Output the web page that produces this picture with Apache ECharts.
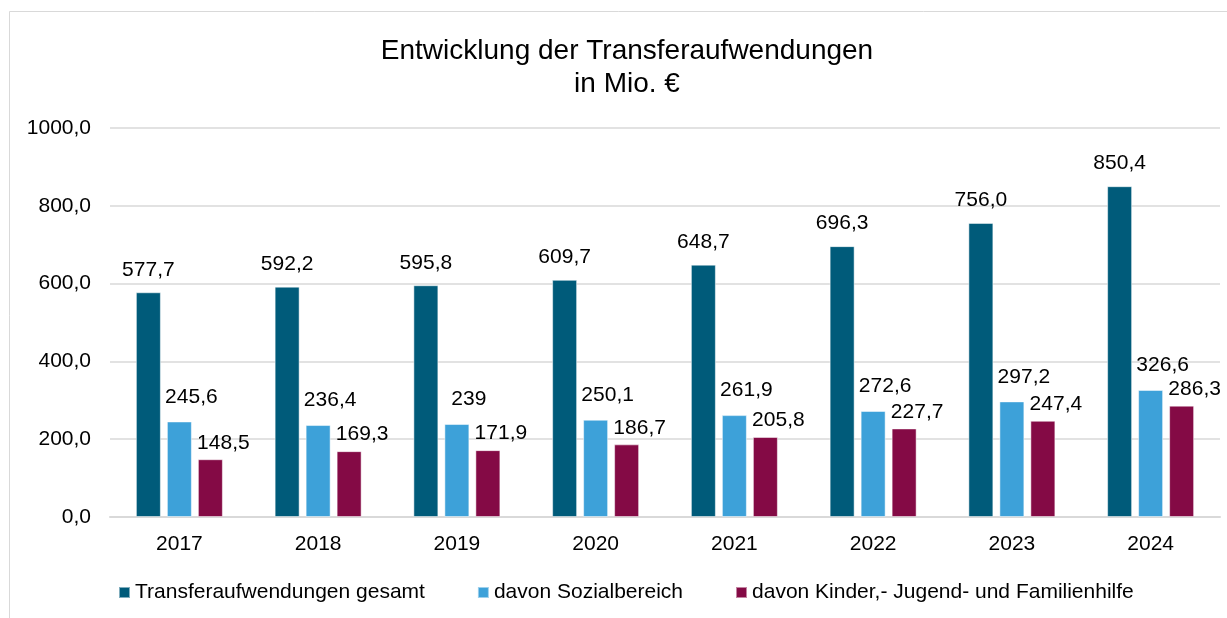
<!DOCTYPE html>
<html lang="de">
<head>
    <meta charset="utf-8">
    <title>Entwicklung der Transferaufwendungen</title>
    <script src="https://cdn.jsdelivr.net/npm/echarts@6/dist/echarts.min.js"></script>
    <style>
        html, body { margin: 0; padding: 0; background: #fff; }
        #main { width: 1227px; height: 618px; }
    </style>
</head>
<body>
<div id="main"></div>
<script type="text/javascript">
    // Daten
    var jahre = ['2017', '2018', '2019', '2020', '2021', '2022', '2023', '2024'];
    var gesamt = [577.7, 592.2, 595.8, 609.7, 648.7, 696.3, 756.0, 850.4];
    var sozial = [245.6, 236.4, 239, 250.1, 261.9, 272.6, 297.2, 326.6];
    var kinder = [148.5, 169.3, 171.9, 186.7, 205.8, 227.7, 247.4, 286.3];
    var namen = ['Transferaufwendungen gesamt', 'davon Sozialbereich', 'davon Kinder,- Jugend- und Familienhilfe'];
    var farben = ['#005B7A', '#3DA1D9', '#840A45'];

    var schrift = 'Liberation Sans, Arial, sans-serif';

    function komma(v) {
        return String(v).replace('.', ',');
    }

    function balken(name, werte, farbe, festKomma, abstand, versatz) {
        return {
            name: name,
            type: 'bar',
            data: werte,
            barWidth: 25,
            barGap: '24%',
            itemStyle: { color: farbe, borderColor: 'rgba(255,255,255,0.5)', borderWidth: 1 },
            label: {
                show: true,
                position: 'top',
                distance: abstand,
                offset: versatz,
                color: '#000',
                fontFamily: schrift,
                fontSize: 21,
                formatter: function (p) {
                    return festKomma ? p.value.toFixed(1).replace('.', ',') : komma(p.value);
                }
            }
        };
    }

    var chart = echarts.init(document.getElementById('main'));
    chart.setOption({
        backgroundColor: '#fff',
        animation: false,
        textStyle: { fontFamily: schrift },
        title: {
            text: 'Entwicklung der Transferaufwendungen\nin Mio. €',
            left: 622,
            top: 30,
            textAlign: 'center',
            textStyle: { fontSize: 28, fontWeight: 'normal', color: '#000', lineHeight: 33, fontFamily: schrift }
        },
        graphic: [{
            type: 'rect',
            shape: { x: 9.5, y: 11.5, width: 1240, height: 640 },
            style: { fill: 'none', stroke: '#d9d9d9', lineWidth: 1 },
            silent: true
        }],
        legend: {
            data: namen,
            left: 118,
            top: 582,
            padding: 0,
            itemWidth: 11,
            itemHeight: 11,
            itemGap: 52,
            icon: 'rect',
            textStyle: { fontSize: 21, color: '#000', fontFamily: schrift }
        },
        grid: { left: 110, right: 7, top: 128, bottom: 101 },
        xAxis: {
            type: 'category',
            data: jahre,
            axisTick: { show: false },
            axisLine: { lineStyle: { color: '#d9d9d9', width: 2 } },
            axisLabel: { color: '#000', fontSize: 21, margin: 17, fontFamily: schrift }
        },
        yAxis: {
            type: 'value',
            min: 0,
            max: 1000,
            interval: 200,
            axisLine: { show: false },
            axisTick: { show: false },
            splitLine: { lineStyle: { color: '#d9d9d9', width: 1.5 } },
            axisLabel: {
                color: '#000',
                fontSize: 21,
                margin: 19,
                fontFamily: schrift,
                formatter: function (v) { return v.toFixed(1).replace('.', ','); }
            }
        },
        series: [
            balken(namen[0], gesamt, farben[0], true, 12, [0, 0]),
            balken(namen[1], sozial, farben[1], false, 14, [12, 0]),
            balken(namen[2], kinder, farben[2], false, 6, [13, 0])
        ]
    });
</script>
</body>
</html>
